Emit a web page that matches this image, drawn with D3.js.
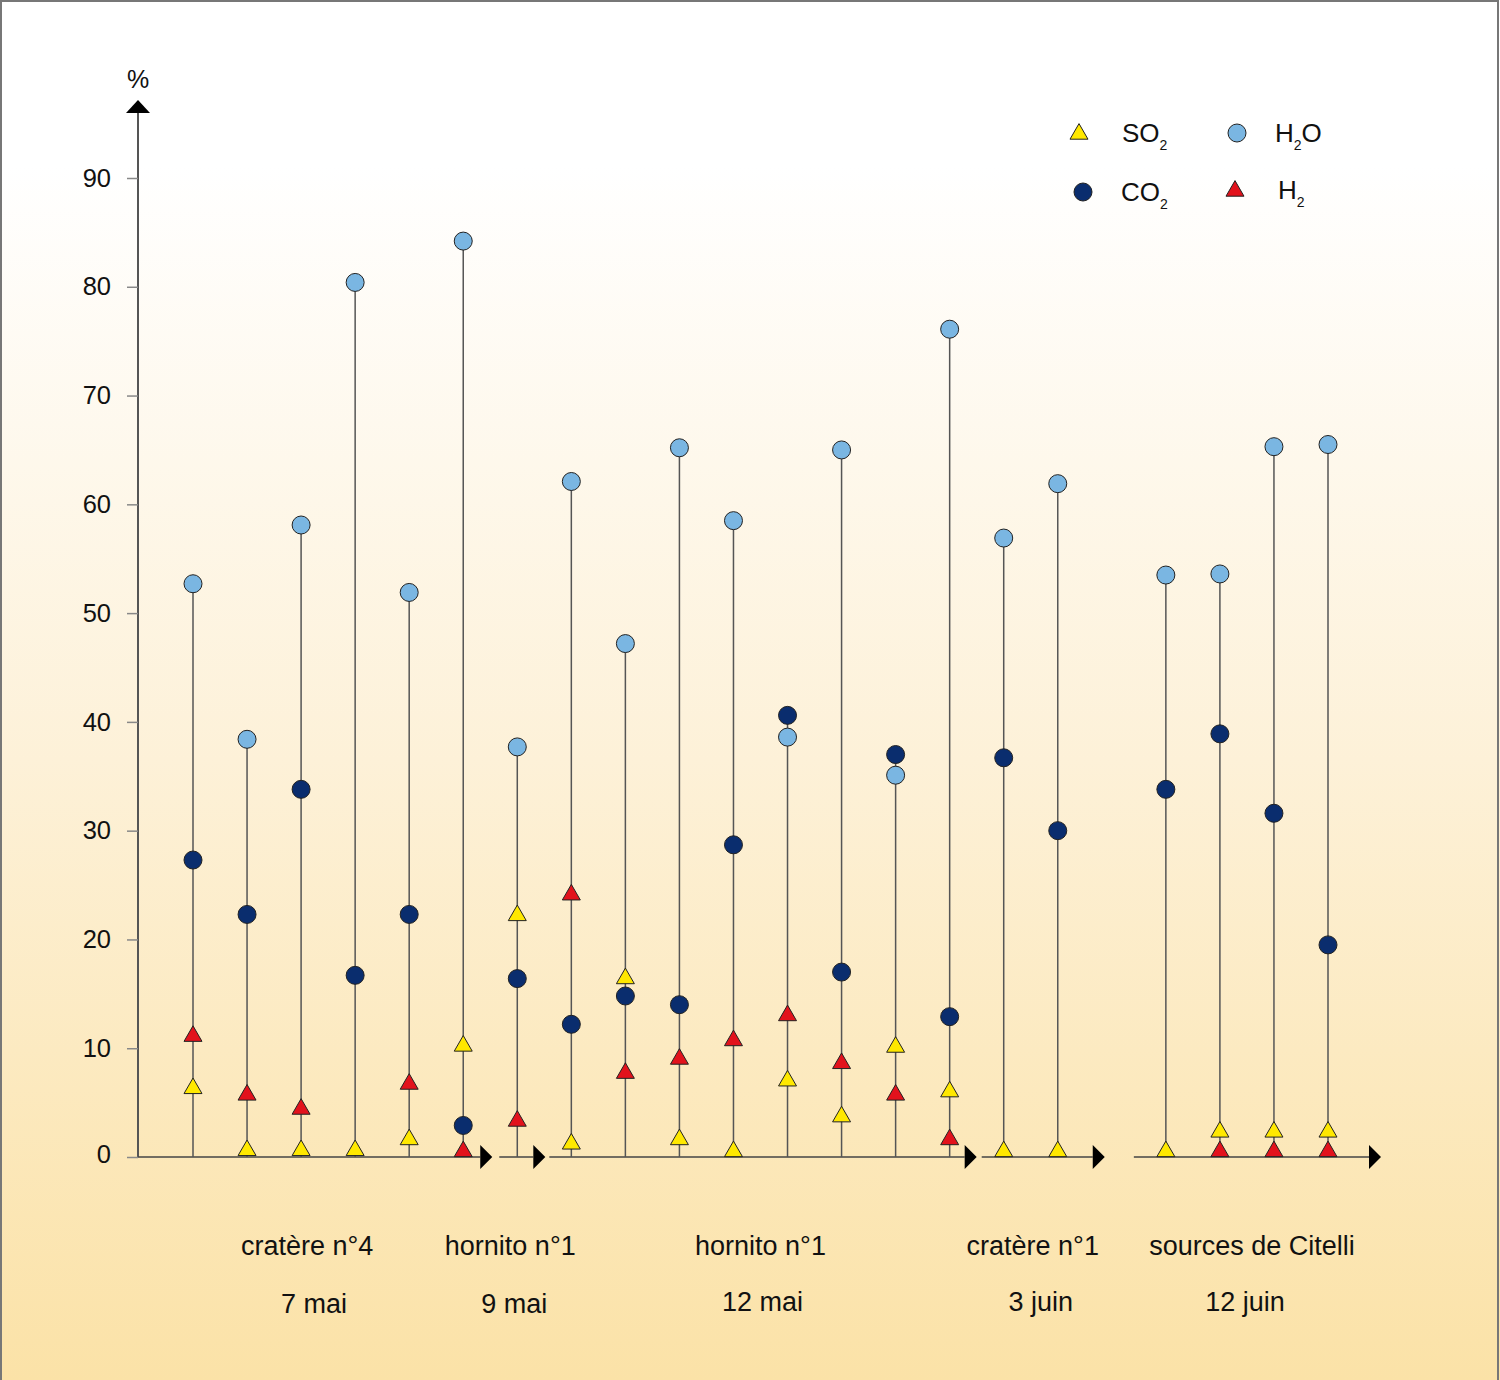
<!DOCTYPE html>
<html><head><meta charset="utf-8">
<script src="https://cdn.jsdelivr.net/npm/d3@7/dist/d3.min.js"></script>
<style>
html,body{margin:0;padding:0;background:#fff;}
svg{display:block;}
text{font-family:"Liberation Sans",Arial,sans-serif;fill:#111;}
</style></head>
<body>
<script>
// ---------- DATA ----------
const samples = ["S1","S2","S3","S4","S5","S6","S7","S8","S9","S10","S11","S12","S13","S14","S15","S16","S17","S18","S19","S20","S21"];
const h2o = [52.7,38.4,58.1,80.4,51.9,84.2,37.7,62.1,47.2,65.2,58.5,38.6,65.0,35.1,76.1,56.9,61.9,53.5,53.6,65.3,65.5];
const co2 = [27.3,22.3,33.8,16.7,22.3,2.9,16.4,12.2,14.8,14.0,28.7,40.6,17.0,37.0,12.9,36.7,30.0,33.8,38.9,31.6,19.5];
const so2 = [6.4,0.7,0.7,0.7,1.7,10.3,22.3,1.3,16.5,1.7,0.6,7.1,3.8,10.2,6.1,0.6,0.6,0.6,2.4,2.4,2.4];
const h2  = [11.2,5.8,4.5,null,6.8,0.6,3.4,24.2,7.8,9.1,10.8,13.1,8.7,5.8,1.7,null,null,null,0.6,0.6,0.6];
const groupNames = ["cratère n°4","hornito n°1","hornito n°1","cratère n°1","sources de Citelli"];
const groupDates = ["7 mai","9 mai","12 mai","3 juin","12 juin"];
const groupOf = [0,0,0,0,0,1,1,2,2,2,2,2,2,2,2,3,3,4,4,4,4];
const yTicks = [0,10,20,30,40,50,60,70,80,90];
// axis segments: [first sample index, last sample index]
const segments = [[null,5],[6,6],[7,14],[15,16],[17,20]];

// ---------- LAYOUT ----------
const W=1500,H=1380;
const svg=d3.select("body").append("svg").attr("width",W).attr("height",H);
const defs=svg.append("defs");
const grad=defs.append("linearGradient").attr("id","bg").attr("x1",0).attr("y1",0).attr("x2",0).attr("y2",1);
grad.append("stop").attr("offset","0%").attr("stop-color","#ffffff");
grad.append("stop").attr("offset","12%").attr("stop-color","#ffffff");
grad.append("stop").attr("offset","55%").attr("stop-color","#fdf1d8");
grad.append("stop").attr("offset","100%").attr("stop-color","#fbe2a7");
svg.append("rect").attr("x",0).attr("y",0).attr("width",W).attr("height",H).attr("fill","url(#bg)");
// frame
svg.append("path").attr("d",`M1,${H} L1,1 L1498,1 L1498,${H}`).attr("fill","none").attr("stroke","#777").attr("stroke-width",2);

const domain = samples.slice(0,17).concat(["gap"]).concat(samples.slice(17));
const x=d3.scalePoint().domain(domain).range([193,1328]);
const y=d3.scaleLinear().domain([0,90]).range([1157,178]);
const axisX=138;

// y axis
svg.append("line").attr("x1",axisX).attr("x2",axisX).attr("y1",y(0)).attr("y2",110).attr("stroke","#555").attr("stroke-width",2);
svg.append("path").attr("d",`M${axisX-12},113 L${axisX+12},113 L${axisX},100 Z`).attr("fill","#000");
svg.append("text").attr("x",axisX).attr("y",88).attr("text-anchor","middle").attr("font-size",25).text("%");
const yAxis=d3.axisLeft(y).tickValues(yTicks).tickSize(11).tickPadding(16).tickFormat(d3.format("d"));
const gy=svg.append("g").attr("transform",`translate(${axisX},0)`).call(yAxis);
gy.select(".domain").remove();
gy.selectAll(".tick line").attr("stroke","#888").attr("stroke-width",1.5);
gy.selectAll(".tick text").attr("font-size",25.5).attr("font-family","Liberation Sans, Arial, sans-serif").attr("fill","#111");
gy.select(".tick text").attr("dy","0.2em");

// x axis segments
const startPad=[0,18,22,22,32];
const endPad=[17,16,15,35,41];
segments.forEach((s,i)=>{
  const x0 = s[0]===null ? axisX : x(samples[s[0]])-startPad[i];
  const xb = x(samples[s[1]])+endPad[i];
  svg.append("line").attr("x1",x0).attr("x2",xb).attr("y1",y(0)).attr("y2",y(0)).attr("stroke","#444").attr("stroke-width",1.5);
  svg.append("path").attr("d",`M${xb},${y(0)-12} L${xb+12},${y(0)} L${xb},${y(0)+12} Z`).attr("fill","#000");
});

// stems
const data=samples.map((s,i)=>({s,h2o:h2o[i],co2:co2[i],so2:so2[i],h2:h2[i]}));
svg.append("g").selectAll("line").data(data).join("line")
  .attr("x1",d=>x(d.s)).attr("x2",d=>x(d.s))
  .attr("y1",y(0)).attr("y2",d=>y(Math.max(d.h2o,d.co2)))
  .attr("stroke","#555").attr("stroke-width",1.5);

const COL={so2:"#ffe800",co2:"#0a2d6e",h2o:"#7ab6e2",h2:"#e2121c"};
const tri=d3.symbol().type(d3.symbolTriangle).size(140);
function triangles(key){
  svg.append("g").selectAll("path").data(data.filter(d=>d[key]!=null)).join("path")
    .attr("d",tri).attr("transform",d=>`translate(${x(d.s)},${y(d[key])+1})`)
    .attr("fill",COL[key]).attr("stroke","#222").attr("stroke-width",1);
}
function circles(key){
  svg.append("g").selectAll("circle").data(data.filter(d=>d[key]!=null)).join("circle")
    .attr("cx",d=>x(d.s)).attr("cy",d=>y(d[key])).attr("r",9)
    .attr("fill",COL[key]).attr("stroke","#222").attr("stroke-width",1);
}
circles("h2o"); circles("co2"); triangles("so2"); triangles("h2");

// group labels
const labelDx=[6,20,0,2,5], dateDx=[13,24,2,10,-2];
groupNames.forEach((g,i)=>{
  const xs=samples.filter((s,j)=>groupOf[j]===i).map(s=>x(s));
  const cx=d3.mean(xs);
  svg.append("text").attr("x",cx+labelDx[i]).attr("y",1255).attr("text-anchor","middle").attr("font-size",27).text(g);
  svg.append("text").attr("x",cx+dateDx[i]).attr("y",i<2?1313:1311).attr("text-anchor","middle").attr("font-size",27).text(groupDates[i]);
});

// legend
const leg=[{k:"so2",t:"SO",sub:"2",post:"",shape:"tri",x:1079,y:133},
           {k:"h2o",t:"H",sub:"2",post:"O",shape:"circ",x:1237,y:133},
           {k:"co2",t:"CO",sub:"2",post:"",shape:"circ",x:1083,y:192},
           {k:"h2",t:"H",sub:"2",post:"",shape:"tri",x:1235,y:190}];
leg.forEach(l=>{
  if(l.shape==="tri") svg.append("path").attr("d",tri).attr("transform",`translate(${l.x},${l.y+1})`).attr("fill",COL[l.k]).attr("stroke","#222");
  else svg.append("circle").attr("cx",l.x).attr("cy",l.y).attr("r",9).attr("fill",COL[l.k]).attr("stroke","#222");
  const t=svg.append("text").attr("x",l.x+(l.shape==="tri"?43:38)).attr("y",l.y+9).attr("font-size",26);
  t.append("tspan").text(l.t);
  t.append("tspan").attr("font-size",14).attr("dy",8).text(l.sub);
  if(l.post) t.append("tspan").attr("dy",-8).text(l.post);
});
</script>
</body></html>
